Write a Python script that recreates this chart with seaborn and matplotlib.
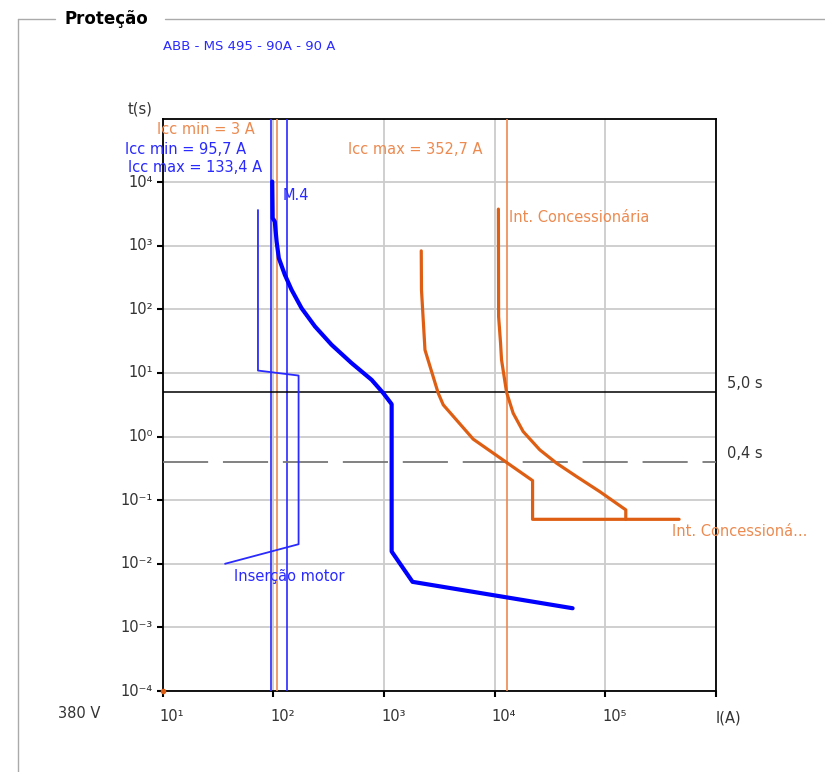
import numpy as np
import pandas as pd
import matplotlib
matplotlib.use("Agg")
import matplotlib.pyplot as plt
from matplotlib.lines import Line2D
import seaborn as sns

# ---- data -------------------------------------------------------------
# Motor protection MS 495 (time-current), A / s
ms495_i = [97.7, 98.6, 103, 107, 112, 127, 146, 180, 238, 336, 509, 772, 985, 1172,
           1172, 1810, 50600]
ms495_t = [10200, 2716, 2400, 1164, 638, 349, 203, 104, 53.7, 27.7, 14.3, 7.8, 4.81, 3.23,
           0.0156, 0.0052, 0.002]

# Motor starting (Inserção motor)
start_i = [36.6, 169, 169, 72.6, 72.6]
start_t = [0.01, 0.0203, 9.1, 10.9, 3640]

# Utility breaker, first curve (referred to 380 V)
util1_i = [2170, 2180, 2345, 3090, 3430, 6400, 22000, 22000, 464000]
util1_t = [830, 203, 23, 4.8, 3.15, 0.91, 0.203, 0.05, 0.05]

# Utility breaker, second curve (referred to 380 V)
util2_i = [10800, 10850, 11300, 11530, 12800, 14690, 18080, 25570, 36200, 55000,
           89200, 153000, 153000]
util2_t = [3760, 77, 29.4, 16.1, 4.99, 2.33, 1.2, 0.618, 0.382, 0.235,
           0.136, 0.0704, 0.05]

# Short-circuit currents
icc_min_blue = 95.7
icc_max_blue = 133.4
icc_min_orange = 3.0
icc_max_orange = 352.7
ratio_hv = 13800 / 380   # high-voltage side currents referred to 380 V

t_limit_1 = 5.0
t_limit_2 = 0.4

x_ticks = [1e1, 1e2, 1e3, 1e4, 1e5, 1e6]
y_ticks = [1e-4, 1e-3, 1e-2, 1e-1, 1e0, 1e1, 1e2, 1e3, 1e4]

# ---- styling ----------------------------------------------------------
sns.set_theme(style="white")
plt.rcParams["font.family"] = ["DejaVu Sans"]

BLUE = "#0000ff"
BLUE_T = "#2a2aff"
ORANGE = "#de5f14"
ORANGE_L = "#ec8a50"
TXT = "#333333"

SUP = str.maketrans("-0123456789", "⁻⁰¹²³⁴⁵⁶⁷⁸⁹")


def pow10(v):
    e = int(round(np.log10(v)))
    return "10" + str(e).translate(SUP)


fig = plt.figure(figsize=(8.25, 7.72), dpi=100)
ax = fig.add_axes([162.7 / 825, 1 - 691 / 772, (716 - 162.7) / 825, (691 - 118.5) / 772])
ax.set_xscale("log")
ax.set_yscale("log")
ax.set_xlim(1e1, 1e6)
ax.set_ylim(1e-4, 1e5)

ax.set_xticks(x_ticks)
ax.set_yticks(y_ticks)
ax.minorticks_off()
ax.grid(True, which="major", color="#cccccc", linewidth=1.3)
ax.set_axisbelow(True)
ax.set_xticklabels([])
ax.set_yticklabels([])
ax.tick_params(axis="both", which="major", direction="out", length=4, width=1.5,
               color="black", bottom=True, left=True)
for s in ax.spines.values():
    s.set_color("black")
    s.set_linewidth(1.3)

# vertical Icc lines
for v in [icc_min_blue, icc_max_blue]:
    ax.axvline(v, color=BLUE_T, lw=1.2, zorder=3)
for v in [icc_min_orange * ratio_hv, icc_max_orange * ratio_hv]:
    ax.axvline(v, color=ORANGE_L, lw=1.2, zorder=3)

# time limits
ax.axhline(t_limit_1, color="black", lw=1.1, zorder=3)
ax.axhline(t_limit_2, color="#777777", lw=1.3, linestyle=(0, (25, 8.2)), zorder=3)

curves = [
    (ms495_i, ms495_t, BLUE, 3.0),
    (start_i, start_t, BLUE_T, 1.3),
    (util1_i, util1_t, ORANGE, 2.3),
    (util2_i, util2_t, ORANGE, 2.3),
]
for xi, ti, col, lw in curves:
    df = pd.DataFrame({"I": xi, "t": ti})
    sns.lineplot(data=df, x="I", y="t", ax=ax, sort=False, estimator=None,
                 color=col, linewidth=lw, zorder=4)
ax.set_xlabel("")
ax.set_ylabel("")

# origin marker
ax.plot([1e1], [1e-4], "o", color=ORANGE, ms=3, clip_on=False, zorder=6)

# tick labels
fs = 10.5
for v in y_ticks:
    ax.annotate(pow10(v), xy=(0, v), xycoords=("axes fraction", "data"),
                xytext=(-7, 0), textcoords="offset points", ha="right", va="center",
                fontsize=fs, color=TXT)
for v in x_ticks[:-1]:
    ax.annotate(pow10(v), xy=(v, 0), xycoords=("data", "axes fraction"),
                xytext=(-2, -13), textcoords="offset points", ha="left", va="top",
                fontsize=fs, color=TXT)
ax.annotate("I(A)", xy=(1e6, 0), xycoords=("data", "axes fraction"),
            xytext=(0, -14), textcoords="offset points", ha="left", va="top",
            fontsize=fs, color=TXT)
fig.text(58 / 825, 1 - 713 / 772, "380 V", fontsize=fs, color=TXT, ha="left", va="center")
fig.text(153 / 825, 1 - 109 / 772, "t(s)", fontsize=fs, color=TXT, ha="right", va="center")

# right-hand limit labels
ax.annotate("5,0 s", xy=(1, t_limit_1), xycoords=("axes fraction", "data"),
            xytext=(8, 6), textcoords="offset points", ha="left", va="center",
            fontsize=fs, color=TXT)
ax.annotate("0,4 s", xy=(1, t_limit_2), xycoords=("axes fraction", "data"),
            xytext=(8, 6), textcoords="offset points", ha="left", va="center",
            fontsize=fs, color=TXT)


# annotations
def ftxt(px, py, s, col, **kw):
    fig.text(px / 825, 1 - py / 772, s, color=col, ha="left", va="center",
             fontsize=kw.pop("fontsize", fs), **kw)


ftxt(157, 130, "Icc min = 3 A", ORANGE_L)
ftxt(125, 149, "Icc min = 95,7 A", BLUE_T)
ftxt(128, 168, "Icc max = 133,4 A", BLUE_T)
ftxt(348, 149, "Icc max = 352,7 A", ORANGE_L)
ftxt(283, 195, "M.4", BLUE_T)
ftxt(509, 218, "Int. Concessionária", ORANGE_L)
ftxt(672, 531, "Int. Concessioná...", ORANGE_L)
ftxt(234, 576, "Inserção motor", BLUE_T)
ftxt(163, 47, "ABB - MS 495 - 90A - 90 A", BLUE_T, fontsize=9.5)

# group frame with title
frame = dict(color="#aaaaaa", lw=1.0, transform=fig.transFigure)
fig.add_artist(Line2D([18 / 825, 18 / 825], [1 - 19 / 772, 0], **frame))
fig.add_artist(Line2D([18 / 825, 55 / 825], [1 - 19 / 772, 1 - 19 / 772], **frame))
fig.add_artist(Line2D([165 / 825, 1.0], [1 - 19 / 772, 1 - 19 / 772], **frame))
fig.text(65 / 825, 1 - 19 / 772, "Proteção", fontsize=12, fontweight="bold",
         color="black", ha="left", va="center")

fig.savefig("out.png", dpi=100)
